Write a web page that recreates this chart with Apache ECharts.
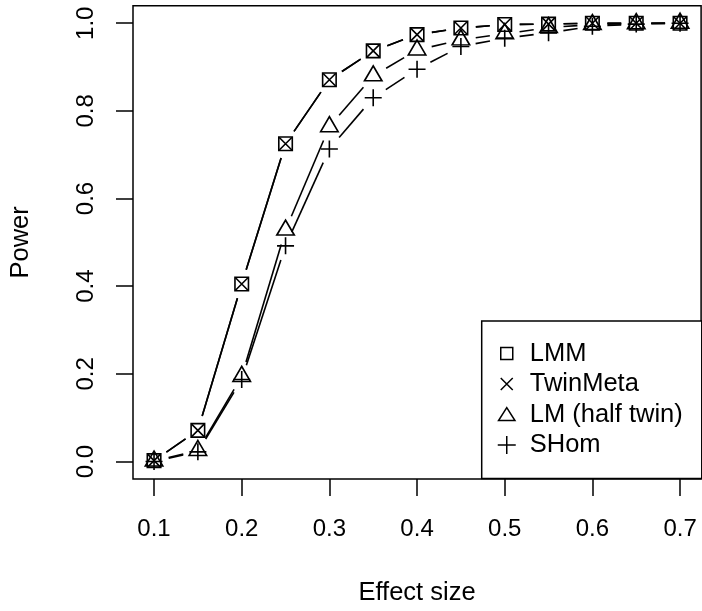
<!DOCTYPE html>
<html>
<head>
<meta charset="utf-8">
<script src="https://cdn.jsdelivr.net/npm/echarts@6/dist/echarts.min.js"></script>
<style>
  html, body { margin: 0; padding: 0; background: #fff; }
  #chart { width: 702px; height: 611px; }
</style>
</head>
<body>
<div id="chart"></div>
<script>
// ---- data ----
const effectSize = [0.1, 0.15, 0.2, 0.25, 0.3, 0.35, 0.4, 0.45, 0.5, 0.55, 0.6, 0.65, 0.7];
const lmm      = [0.002, 0.071, 0.405, 0.725, 0.871, 0.937, 0.974, 0.989, 0.997, 0.998, 1.0, 1.0, 1.0];
const twinMeta = [0.002, 0.071, 0.405, 0.725, 0.871, 0.937, 0.974, 0.989, 0.997, 0.998, 1.0, 1.0, 1.0];
const lmHalf   = [0.001, 0.025, 0.194, 0.528, 0.764, 0.880, 0.939, 0.962, 0.976, 0.990, 0.997, 0.999, 1.0];
const sHom     = [0.000, 0.022, 0.187, 0.492, 0.713, 0.830, 0.895, 0.947, 0.966, 0.978, 0.993, 0.998, 1.0];
const seriesNames = ['LMM', 'TwinMeta', 'LM (half twin)', 'SHom'];
const xTicks = [0.1, 0.2, 0.3, 0.4, 0.5, 0.6, 0.7];
const yTicks = [0.0, 0.2, 0.4, 0.6, 0.8, 1.0];
const xLabel = 'Effect size';
const yLabel = 'Power';

// ---- styling ----
const FONT = 'Liberation Sans, Arial, Helvetica, sans-serif';
const LW = 1.6;
const GAP = 15;

const symbols = {
  'LMM': { symbol: 'rect', size: 13.5, offset: [0, 0] },
  'TwinMeta': { symbol: 'path://M0,0L1,1M1,0L0,1', size: 12.5, offset: [0, 0] },
  'LM (half twin)': { symbol: 'triangle', size: [17.5, 15], offset: [0, -2.5] },
  'SHom': { symbol: 'path://M0,0.5L1,0.5M0.5,0L0.5,1', size: 17, offset: [0, 0] }
};
const legendIcons = {
  'LMM': 'path://M0,0M27,18M3,3L15,3L15,15L3,15Z',
  'TwinMeta': 'path://M0,0M27,18M3,3L15,15M15,3L3,15',
  'LM (half twin)': 'path://M0,0M27,18M0.8,15L17.2,15L9,2.2Z',
  'SHom': 'path://M0,0M27,18M0,9L18,9M9,0L9,18'
};

const allData = [lmm, twinMeta, lmHalf, sHom];

function segmentsOf(values) {
  const segs = [];
  for (let i = 0; i < values.length - 1; i++) {
    segs.push([effectSize[i], values[i], effectSize[i + 1], values[i + 1]]);
  }
  return segs;
}

function renderGapLine(params, api) {
  const p0 = api.coord([api.value(0), api.value(1)]);
  const p1 = api.coord([api.value(2), api.value(3)]);
  const dx = p1[0] - p0[0], dy = p1[1] - p0[1];
  const L = Math.sqrt(dx * dx + dy * dy);
  if (L <= 2 * GAP) return null;
  const ux = dx / L, uy = dy / L;
  return {
    type: 'line',
    shape: { x1: p0[0] + ux * GAP, y1: p0[1] + uy * GAP, x2: p1[0] - ux * GAP, y2: p1[1] - uy * GAP },
    style: { stroke: '#000', lineWidth: LW, lineCap: 'butt' }
  };
}

const series = [];
seriesNames.forEach((name, k) => {
  series.push({
    type: 'custom',
    name: name + ' line',
    renderItem: renderGapLine,
    encode: { x: [0, 2], y: [1, 3] },
    data: segmentsOf(allData[k]),
    z: 1,
    silent: true
  });
});
seriesNames.forEach((name, k) => {
  const s = symbols[name];
  series.push({
    type: 'scatter',
    name: name,
    data: effectSize.map((x, i) => [x, allData[k][i]]),
    symbol: s.symbol,
    symbolSize: s.size,
    symbolOffset: s.offset,
    itemStyle: { color: 'rgba(0,0,0,0)', borderColor: '#000', borderWidth: LW, opacity: 1 },
    z: 3
  });
});

const chart = echarts.init(document.getElementById('chart'), null, { renderer: 'canvas' });
chart.setOption({
  animation: false,
  backgroundColor: '#fff',
  textStyle: { fontFamily: FONT },
  grid: {
    left: 130.9, right: 0.9, top: 5.7, bottom: 131.4,
    show: true, borderColor: '#000', borderWidth: 1.5, backgroundColor: 'transparent'
  },
  xAxis: {
    type: 'value',
    min: 0.076, max: 0.724,
    axisLine: { show: false, onZero: false },
    splitLine: { show: false },
    axisTick: { show: true, length: 17, customValues: xTicks, lineStyle: { color: '#000', width: 1.5 } },
    axisLabel: { customValues: xTicks, margin: 38.5, fontSize: 24, color: '#000', fontFamily: FONT,
                 formatter: v => v.toFixed(1) },
    name: xLabel, nameLocation: 'middle', nameGap: 101,
    nameTextStyle: { fontSize: 25.5, color: '#000', fontFamily: FONT }
  },
  yAxis: {
    type: 'value',
    min: -0.04, max: 1.04,
    axisLine: { show: false, onZero: false },
    splitLine: { show: false },
    axisTick: { show: true, length: 17, customValues: yTicks, lineStyle: { color: '#000', width: 1.5 } },
    axisLabel: { customValues: yTicks, margin: 35, fontSize: 24, color: '#000', fontFamily: FONT, rotate: 90,
                 formatter: v => v.toFixed(1) },
    name: yLabel, nameLocation: 'middle', nameGap: 99, nameRotate: 90,
    nameTextStyle: { fontSize: 25.5, color: '#000', fontFamily: FONT }
  },
  legend: {
    orient: 'vertical',
    left: 481.7, top: 321,
    padding: [17.25, 19, 18.25, 15.3],
    borderColor: '#000', borderWidth: 1.5, backgroundColor: '#fff',
    itemWidth: 27, itemHeight: 18, itemGap: 0,
    selectedMode: false,
    textStyle: { fontSize: 25.5, color: '#000', fontFamily: FONT, lineHeight: 30.5 },
    data: seriesNames.map(n => ({
      name: n,
      icon: legendIcons[n],
      itemStyle: { color: 'rgba(0,0,0,0)', borderColor: '#000', borderWidth: 1.5 }
    }))
  },
  series: series
});
</script>
</body>
</html>
